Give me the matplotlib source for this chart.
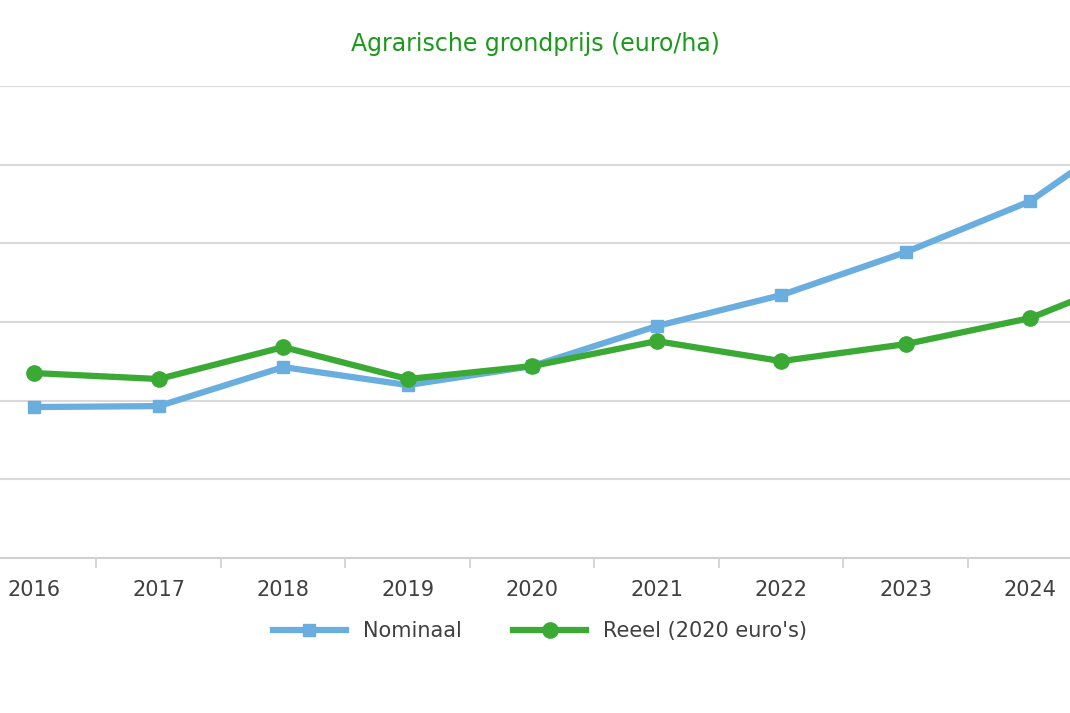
import matplotlib.pyplot as plt
import numpy as np

years = ["2016", "2017", "2018", "2019", "2020", "2021", "2022", "2023", "2024", "2025"]
nominaal = [59190, 59310, 64270, 61980, 64400, 69480, 73420, 78880, 85360, 96400]
reeel = [63510, 62750, 66810, 62750, 64400, 67570, 65030, 67190, 70500, 76850]

W, H = 1070, 713
fig = plt.figure(figsize=(W / 100, H / 100), dpi=100)
# axes runs past the picture edges, as in the cropped original
ax = fig.add_axes([-28 / W, 1 - 558 / H, 1245 / W, (558 - 86) / H])

x = np.arange(len(years))
ax.plot(x, nominaal, color="#6aaee0", lw=4.5, marker="s", ms=9, label="Nominaal", zorder=3)
ax.plot(x, reeel, color="#3aaa35", lw=4.5, marker="o", ms=11, label="Reeel (2020 euro's)", zorder=4)

ax.set_xlim(-0.5, len(years) - 0.5)
ax.set_ylim(40000, 100000)
ax.set_yticks(np.arange(40000, 100001, 10000))
ax.yaxis.grid(True, color="#d9d9d9", lw=1.5)
ax.set_axisbelow(True)
ax.tick_params(axis="y", left=False, labelleft=False)
ax.set_xticks(x)
# last year lies outside the visible picture, so its label is left empty
ax.set_xticklabels(years[:-1] + [""], fontsize=15, color="#404040")
ax.tick_params(axis="x", which="major", length=0, pad=16)
ax.set_xticks(x[:-1] + 0.5, minor=True)
ax.tick_params(axis="x", which="minor", length=7, color="#d0d0d0", width=1.2)
for s in ["top", "left", "right"]:
    ax.spines[s].set_visible(False)
ax.spines["bottom"].set_color("#d0d0d0")
ax.spines["bottom"].set_linewidth(1.5)

fig.text(535 / W, 1 - 44 / H, "Agrarische grondprijs (euro/ha)", ha="center", va="center",
         fontsize=17, color="#1a9a1a")
fig.legend(loc="center", bbox_to_anchor=(540 / W, 1 - 631 / H), ncol=2, frameon=False,
           fontsize=15, labelcolor="#404040", handlelength=3.5, columnspacing=2.5)

fig.savefig("out.png", dpi=100)
